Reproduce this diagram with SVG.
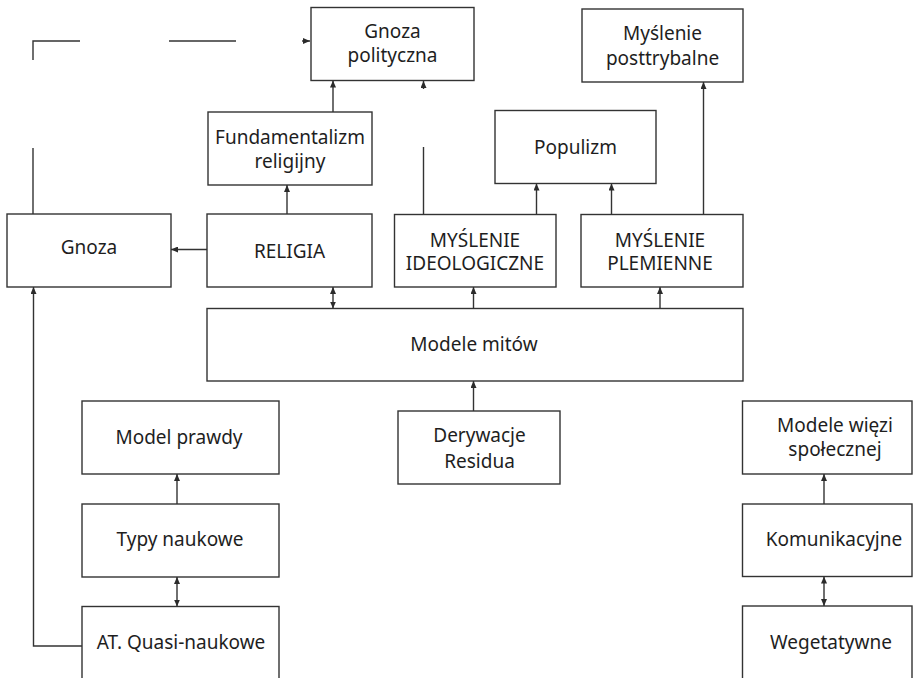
<svg xmlns="http://www.w3.org/2000/svg" width="913" height="678" viewBox="0 0 913 678">
<defs>
<marker id="ah" markerUnits="userSpaceOnUse" markerWidth="8" markerHeight="6" refX="7" refY="3" orient="auto-start-reverse">
<path d="M0,0 L7,3 L0,6 z" fill="#2b2b2b"/>
</marker>
</defs>
<style>
.n rect{fill:#fff;stroke:#333;stroke-width:1.4}
text{font-family:"Noto Sans","Open Sans",sans-serif;font-size:19px;fill:#1e1e1e;text-anchor:middle}
#connectors path{fill:none;stroke:#333;stroke-width:1.4}
.a{marker-end:url(#ah)}
.b{marker-start:url(#ah);marker-end:url(#ah)}
</style>
<g id="gnoza-polityczna" class="n"><rect x="311" y="7.5" width="163" height="73"/><text x="392.5" y="38">Gnoza</text><text x="392.5" y="62">polityczna</text></g>
<g id="myslenie-posttrybalne" class="n"><rect x="582" y="9" width="161" height="73"/><text x="662.5" y="40">Myślenie</text><text x="662.5" y="65">posttrybalne</text></g>
<g id="populizm" class="n"><rect x="495" y="110.5" width="161" height="73"/><text x="575.5" y="153.5">Populizm</text></g>
<g id="fundamentalizm" class="n"><rect x="208" y="112" width="164" height="73"/><text x="290" y="143.5">Fundamentalizm</text><text x="290" y="167.5">religijny</text></g>
<g id="gnoza" class="n"><rect x="7" y="214" width="164" height="73"/><text x="89" y="253.5">Gnoza</text></g>
<g id="religia" class="n"><rect x="207" y="214" width="165" height="73"/><text x="289.5" y="257.5">RELIGIA</text></g>
<g id="myslenie-ideologiczne" class="n"><rect x="394.5" y="214.5" width="161.5" height="72.5"/><text x="475" y="246.5">MYŚLENIE</text><text x="475" y="270">IDEOLOGICZNE</text></g>
<g id="myslenie-plemienne" class="n"><rect x="581" y="214.5" width="162" height="72.5"/><text x="660" y="246.5">MYŚLENIE</text><text x="660" y="270">PLEMIENNE</text></g>
<g id="modele-mitow" class="n"><rect x="207" y="308.5" width="536" height="72.5"/><text x="474" y="351">Modele mitów</text></g>
<g id="derywacje" class="n"><rect x="398" y="411" width="162" height="73"/><text x="479.5" y="442">Derywacje</text><text x="479.5" y="468">Residua</text></g>
<g id="model-prawdy" class="n"><rect x="82" y="401" width="197" height="73"/><text x="179" y="444">Model prawdy</text></g>
<g id="typy-naukowe" class="n"><rect x="82" y="504" width="197" height="73"/><text x="180" y="545.5">Typy naukowe</text></g>
<g id="at-quasi" class="n"><rect x="82" y="606.5" width="197" height="90"/><text x="181" y="648.5">AT. Quasi-naukowe</text></g>
<g id="modele-wiezi" class="n"><rect x="742.5" y="401" width="169.5" height="73"/><text x="835" y="431.5">Modele więzi</text><text x="835" y="455.5">społecznej</text></g>
<g id="komunikacyjne" class="n"><rect x="742.5" y="504" width="169.5" height="72.5"/><text x="834" y="546">Komunikacyjne</text></g>
<g id="wegetatywne" class="n"><rect x="742.5" y="606" width="169.5" height="90"/><text x="831" y="649">Wegetatywne</text></g>
<g id="connectors">
<path d="M33,214 V148"/>
<path d="M33,60 V41 H80"/>
<path d="M169,41 H236"/>
<path class="a" d="M302,41 H310"/>
<path d="M423.5,214.5 V147"/>
<path class="a" d="M423.5,89 V81"/>
<path class="a" d="M333,112 V80.5"/>
<path class="a" d="M287,214 V185"/>
<path class="a" d="M207,249.5 H171"/>
<path class="b" d="M333,287 V308.5"/>
<path class="a" d="M536.5,214.5 V183.5"/>
<path class="a" d="M611.5,214.5 V183.5"/>
<path class="a" d="M703.5,214.5 V82"/>
<path class="a" d="M473.5,308.5 V287"/>
<path class="a" d="M660,308.5 V287"/>
<path class="a" d="M473.5,411 V381"/>
<path class="a" d="M82,646 H33.5 V287"/>
<path class="a" d="M177,504 V474"/>
<path class="b" d="M177,577 V606.5"/>
<path class="a" d="M824,504 V474"/>
<path class="b" d="M824,576.5 V606"/>
</g>
</svg>
